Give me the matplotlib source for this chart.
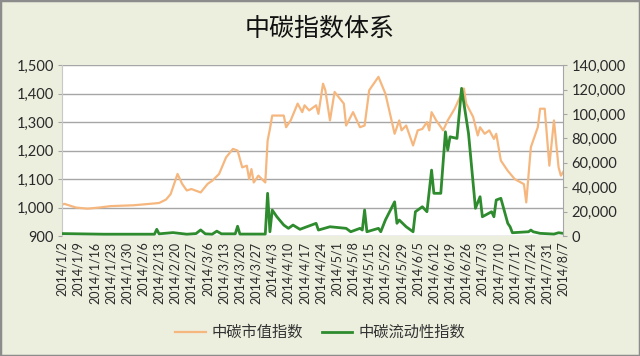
import matplotlib
matplotlib.use("Agg")
import matplotlib.pyplot as plt
from matplotlib.patches import Rectangle
import pandas as pd

plt.rcParams['font.family'] = ['Lato', 'Noto Sans CJK SC', 'DejaVu Sans']

title = "中碳指数体系"
cap_label = "中碳市值指数"
liq_label = "中碳流动性指数"

# 中碳市值指数 (left axis)
cap_dates = ["01-02", "01-03", "01-08", "01-13", "01-18", "01-23", "02-02", "02-09",
             "02-13", "02-16", "02-18", "02-21", "02-23", "02-25", "02-27", "03-03",
             "03-06", "03-08", "03-11", "03-14", "03-17", "03-19", "03-21", "03-23",
             "03-24", "03-25", "03-26", "03-28", "03-31", "04-01", "04-02", "04-03",
             "04-08", "04-09", "04-11", "04-14", "04-16", "04-17", "04-19", "04-22",
             "04-23", "04-25", "04-26", "04-28", "04-30", "05-04", "05-05", "05-08",
             "05-11", "05-13", "05-15", "05-19", "05-22", "05-26", "05-28", "05-29",
             "05-31", "06-03", "06-05", "06-07", "06-09", "06-10", "06-11", "06-13",
             "06-16", "06-18", "06-21", "06-25", "06-26", "06-29", "07-01", "07-02",
             "07-04", "07-06", "07-08", "07-09", "07-11", "07-14", "07-17", "07-21",
             "07-22", "07-24", "07-27", "07-28", "07-30", "08-01", "08-03", "08-05",
             "08-06", "08-07"]
cap_values = [1010, 1013, 1000, 996, 1000, 1005, 1008, 1013,
              1016, 1028, 1047, 1118, 1083, 1060, 1065, 1053,
              1083, 1094, 1118, 1176, 1206, 1200, 1141, 1147,
              1100, 1135, 1088, 1112, 1088, 1235, 1276, 1323,
              1323, 1282, 1306, 1365, 1335, 1359, 1341, 1359,
              1329, 1435, 1412, 1306, 1406, 1365, 1288, 1335,
              1282, 1288, 1412, 1459, 1400, 1259, 1306, 1271,
              1288, 1218, 1271, 1276, 1300, 1271, 1335, 1306,
              1271, 1306, 1347, 1418, 1365, 1318, 1253, 1282,
              1259, 1271, 1241, 1259, 1165, 1129, 1100, 1082,
              1018, 1212, 1282, 1347, 1347, 1147, 1306, 1141,
              1112, 1125]

# 中碳流动性指数 (right axis)
liq_dates = ["01-02", "01-20", "02-11", "02-12", "02-13", "02-19", "02-25", "03-01",
             "03-03", "03-05", "03-08", "03-10", "03-12", "03-18", "03-19", "03-20",
             "03-31", "04-01", "04-02", "04-03", "04-05", "04-08", "04-10", "04-12",
             "04-15", "04-20", "04-22", "04-23", "04-28", "05-05", "05-07", "05-11",
             "05-12", "05-13", "05-14", "05-19", "05-20", "05-22", "05-26", "05-27",
             "05-28", "05-31", "06-03", "06-04", "06-07", "06-09", "06-11", "06-12",
             "06-15", "06-17", "06-18", "06-19", "06-22", "06-24", "06-27", "06-30",
             "07-02", "07-03", "07-07", "07-08", "07-09", "07-11", "07-14", "07-15",
             "07-16", "07-23", "07-24", "07-25", "07-28", "08-03", "08-05", "08-07"]
liq_values = [2000, 1500, 1500, 5500, 1800, 2800, 1500, 2000,
              5000, 1800, 1500, 4000, 1800, 1800, 8000, 1600,
              1600, 35000, 3500, 21300, 15800, 9000, 6300, 9000,
              5500, 9000, 10400, 4900, 7600, 6300, 3500, 6300,
              4900, 21300, 3500, 6300, 3500, 13100, 28000, 10400,
              13100, 7600, 3500, 19900, 24000, 19900, 54000, 35000,
              35000, 85400, 70400, 81300, 80000, 121000, 84000, 22700,
              32200, 15800, 19900, 15800, 29500, 30900, 10400, 7600,
              2700, 3500, 4900, 3500, 2200, 1600, 2700, 2200]

cap_x = pd.to_datetime(["2014-" + d for d in cap_dates])
liq_x = pd.to_datetime(["2014-" + d for d in liq_dates])
ticks = pd.date_range("2014-01-02", "2014-08-07", freq="7D")
tick_labels = [f"{d.year}/{d.month}/{d.day}" for d in ticks]

bg = "#ECEEDE"
fig = plt.figure(figsize=(6.4, 3.56), dpi=100, facecolor=bg)
ax = fig.add_axes([0.097, 0.337, 0.783, 0.48])
ax2 = ax.twinx()

ax.plot(cap_x, cap_values, color="#F6B77E", lw=1.6, label=cap_label)
ax2.plot(liq_x, liq_values, color="#2E8B2E", lw=2.0, label=liq_label)

ax.set_ylim(900, 1500)
ax.set_yticks(range(900, 1501, 100))
ax.set_yticklabels([f"{v:,}" for v in range(900, 1501, 100)])
ax2.set_ylim(0, 140000)
ax2.set_yticks(range(0, 140001, 20000))
ax2.set_yticklabels([f"{v:,}" for v in range(0, 140001, 20000)])

ax.set_xlim(ticks[0], ticks[-1])
ax.set_xticks(ticks)
ax.set_xticklabels(tick_labels, rotation=90)

ax.grid(axis="y", color="#A6A6A6", lw=1)
ax.set_axisbelow(True)
for a in (ax, ax2):
    for s in a.spines.values():
        s.set_visible(False)
ax2.spines["right"].set_visible(True)
ax2.spines["right"].set_color("#A6A6A6")
ax.spines["left"].set_visible(True)
ax.spines["left"].set_color("#C8C8C8")
ax.tick_params(axis="y", length=3, color="#A6A6A6", labelsize=10.5, labelcolor="#2A2A2A", pad=3)
ax.tick_params(axis="x", length=0, labelsize=9, labelcolor="#2A2A2A", pad=4)
ax2.tick_params(axis="y", length=3, color="#A6A6A6", labelsize=10.5, labelcolor="#2A2A2A", pad=3)

fig.text(0.5, 0.92, title, ha="center", va="center", fontsize=18, color="#111111")

h1, l1 = ax.get_legend_handles_labels()
h2, l2 = ax2.get_legend_handles_labels()
fig.legend(h1 + h2, l1 + l2, loc="center", bbox_to_anchor=(0.5, 0.065), ncol=2,
           frameon=False, fontsize=11, handlelength=2.0, handletextpad=0.4,
           columnspacing=1.2, labelcolor="#333333")

fig.patches.append(Rectangle((0, 0), 1, 1, transform=fig.transFigure, fill=False,
                             edgecolor="#8C8C8C", lw=2.5))

fig.savefig("out.png", dpi=100, facecolor=bg)
